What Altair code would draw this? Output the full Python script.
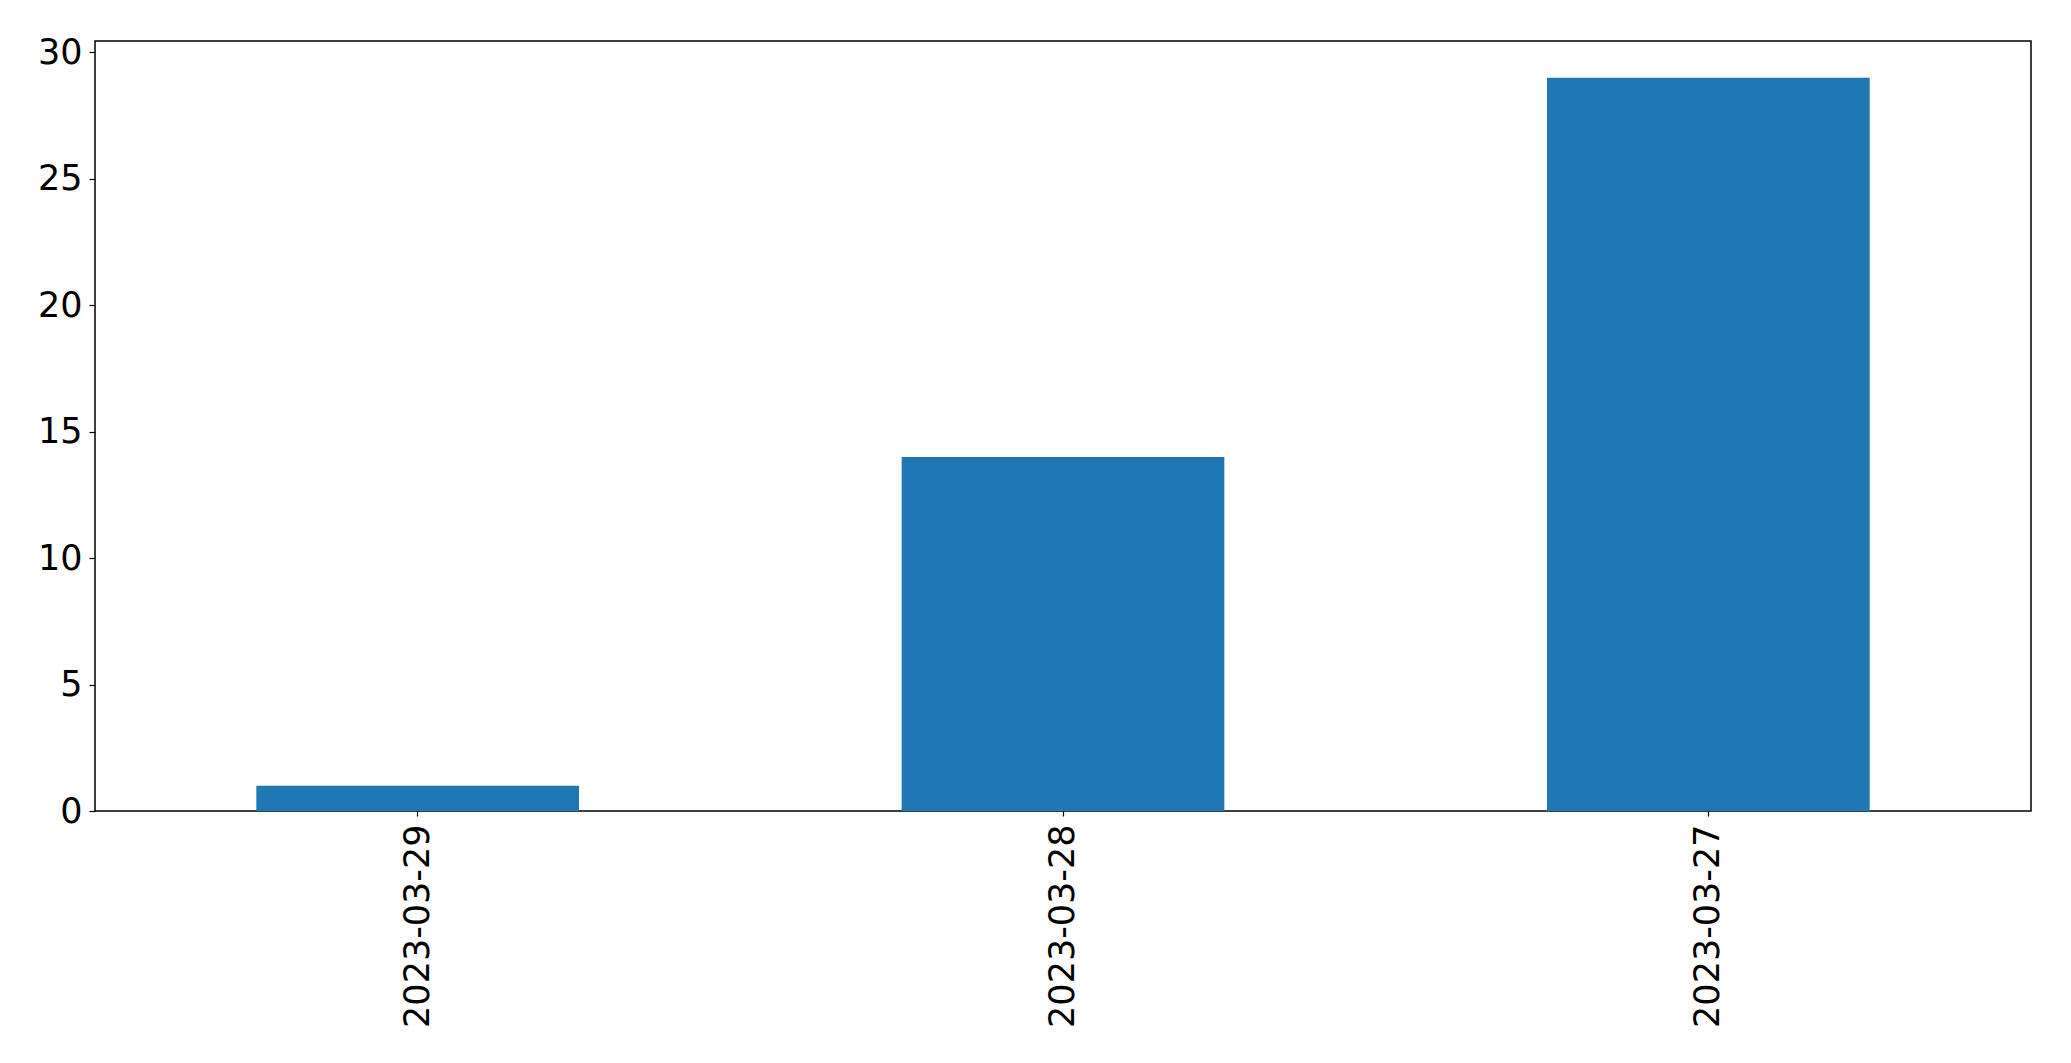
import altair as alt
import pandas as pd

dates = ["2023-03-29", "2023-03-28", "2023-03-27"]
counts = [1, 14, 29]
y_ticks = [0, 5, 10, 15, 20, 25, 30]

df = pd.DataFrame({"date": dates, "count": counts})

chart = alt.Chart(df).mark_bar(color="#1f77b4").encode(
    x=alt.X("date:N", sort=None, title=None,
            scale=alt.Scale(paddingInner=0.5, paddingOuter=0.25),
            axis=alt.Axis(labelAngle=270, labelFontSize=35, labelFont="DejaVu Sans",
                          labelColor="black", tickColor="black", tickSize=5,
                          tickWidth=1.2, labelPadding=8, labelLimit=0, domain=False)),
    y=alt.Y("count:Q", title=None,
            scale=alt.Scale(domain=[0, 30.45], nice=False, zero=True),
            axis=alt.Axis(values=y_ticks, grid=False, labelFontSize=35,
                          labelFont="DejaVu Sans", labelColor="black",
                          tickColor="black", tickSize=6, tickWidth=1.2,
                          labelPadding=7, domain=False)),
).properties(
    width=1936, height=770,
    background="white",
    autosize=alt.AutoSizeParams(type="none"),
    padding={"left": 87, "top": 33, "right": 20, "bottom": 230},
).configure_view(
    stroke="black", strokeWidth=1.5
)

chart.save("out.html", embed_options={"renderer": "svg", "actions": False})
